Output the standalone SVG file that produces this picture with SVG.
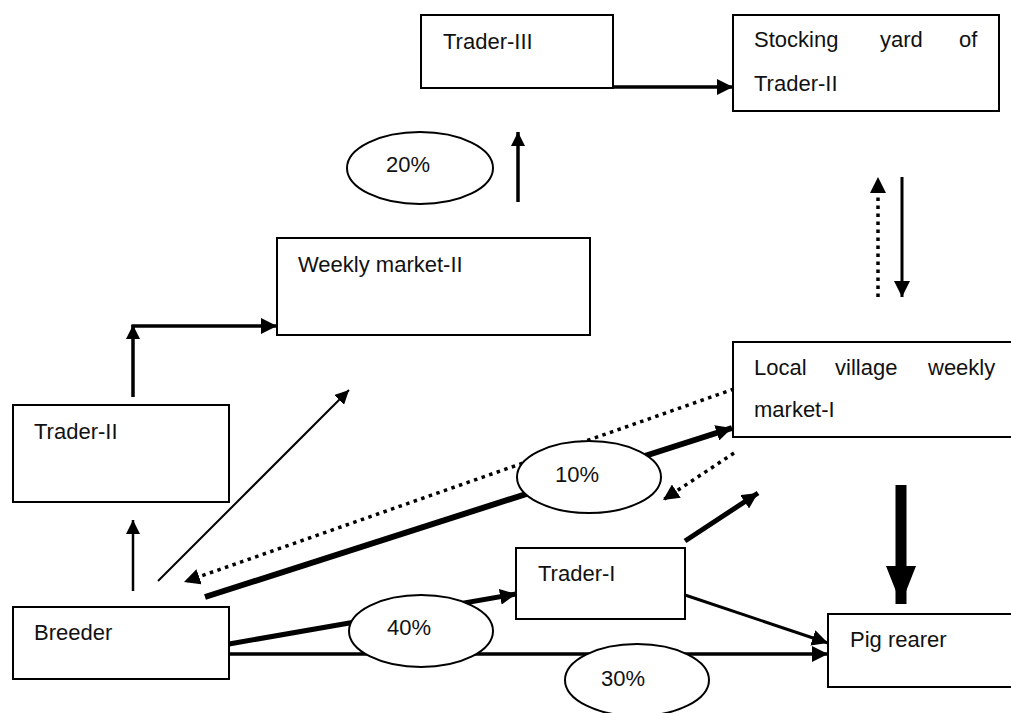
<svg xmlns="http://www.w3.org/2000/svg" width="1011" height="713" viewBox="0 0 1011 713">
<style>
.box{fill:#fff;stroke:#000;stroke-width:2}
.ell{fill:#fff;stroke:#000;stroke-width:2}
.t{font-family:"Liberation Sans",Arial,sans-serif;font-size:22px;fill:#111}
.tc{font-family:"Liberation Sans",Arial,sans-serif;font-size:22px;fill:#111;text-anchor:middle}
.c{fill:none;stroke:#000;stroke-linecap:butt}
.dot{fill:none;stroke:#000;stroke-width:3.5;stroke-dasharray:3.5 4.5}
</style>
<defs>
<marker id="ah" viewBox="0 0 16 16" refX="16" refY="8" markerWidth="16" markerHeight="16" markerUnits="userSpaceOnUse" orient="auto"><path d="M0,0 L16,8 L0,16 z" fill="#000"/></marker>
<marker id="ahs" viewBox="0 0 14 14" refX="14" refY="7" markerWidth="14" markerHeight="14" markerUnits="userSpaceOnUse" orient="auto"><path d="M0,0 L14,7 L0,14 z" fill="#000"/></marker>
<marker id="ahb" viewBox="0 0 38 30" refX="38" refY="15" markerWidth="38" markerHeight="30" markerUnits="userSpaceOnUse" orient="auto"><path d="M0,0 L38,15 L0,30 z" fill="#000"/></marker>
</defs>
<g id="connectors">
<line class="c" x1="613" y1="87" x2="733" y2="87" stroke-width="3.5" marker-end="url(#ah)"/>
<line class="c" x1="518" y1="202" x2="518" y2="132" stroke-width="3.5" marker-end="url(#ahs)"/>
<line class="dot" x1="878" y1="297" x2="878" y2="177" marker-end="url(#ah)"/>
<line class="c" x1="902" y1="177" x2="902" y2="297" stroke-width="3" marker-end="url(#ah)"/>
<line class="c" x1="133" y1="397" x2="133" y2="325" stroke-width="3.5" marker-end="url(#ahs)"/>
<line class="c" x1="131.5" y1="326" x2="277" y2="326" stroke-width="3.5" marker-end="url(#ah)"/>
<line class="c" x1="158" y1="581" x2="349" y2="390" stroke-width="2" marker-end="url(#ahs)"/>
<line class="dot" x1="734" y1="389" x2="184" y2="582" marker-end="url(#ah)"/>
<line class="c" x1="205" y1="597" x2="732" y2="428" stroke-width="6" marker-end="url(#ah)"/>
<line class="dot" x1="734" y1="453" x2="663" y2="500" marker-end="url(#ah)"/>
<line class="c" x1="685" y1="541" x2="758" y2="493" stroke-width="5" marker-end="url(#ah)"/>
<line class="c" x1="133" y1="591" x2="133" y2="520" stroke-width="2.5" marker-end="url(#ahs)"/>
<line class="c" x1="229" y1="644" x2="516" y2="594" stroke-width="5" marker-end="url(#ah)"/>
<line class="c" x1="229" y1="654" x2="828" y2="654" stroke-width="3.5" marker-end="url(#ah)"/>
<line class="c" x1="685" y1="595" x2="828" y2="643" stroke-width="3" marker-end="url(#ah)"/>
<line class="c" x1="901" y1="485" x2="901" y2="604" stroke-width="11" marker-end="url(#ahb)"/>
</g>
<g id="trader3"><rect class="box" x="421" y="15" width="192" height="73"/><text class="t" x="443" y="49">Trader-III</text></g>
<g id="stocking"><rect class="box" x="733" y="15" width="266" height="96"/><text class="t" y="47"><tspan x="754">Stocking</tspan><tspan x="880">yard</tspan><tspan x="959">of</tspan></text><text class="t" x="754" y="91">Trader-II</text></g>
<g id="weekly2"><rect class="box" x="277" y="238" width="313" height="97"/><text class="t" x="298" y="272">Weekly market-II</text></g>
<g id="trader2"><rect class="box" x="13" y="405" width="216" height="97"/><text class="t" x="34" y="439">Trader-II</text></g>
<g id="local1"><rect class="box" x="733" y="342" width="280" height="95"/><text class="t" y="375"><tspan x="754">Local</tspan><tspan x="835">village</tspan><tspan x="928">weekly</tspan></text><text class="t" x="754" y="417">market-I</text></g>
<g id="trader1"><rect class="box" x="516" y="548" width="169" height="71"/><text class="t" x="538" y="581">Trader-I</text></g>
<g id="breeder"><rect class="box" x="13" y="607" width="216" height="72"/><text class="t" x="34" y="640">Breeder</text></g>
<g id="pigrearer"><rect class="box" x="828" y="614" width="185" height="73"/><text class="t" x="850" y="647">Pig rearer</text></g>
<g id="p20"><ellipse class="ell" cx="420" cy="168" rx="73" ry="36"/><text class="tc" x="408" y="172">20%</text></g>
<g id="p10"><ellipse class="ell" cx="589" cy="477" rx="72" ry="36"/><text class="tc" x="577" y="482">10%</text></g>
<g id="p40"><ellipse class="ell" cx="421" cy="631" rx="72" ry="36"/><text class="tc" x="409" y="635">40%</text></g>
<g id="p30"><ellipse class="ell" cx="637" cy="680" rx="72" ry="36"/><text class="tc" x="623" y="686">30%</text></g>
</svg>
